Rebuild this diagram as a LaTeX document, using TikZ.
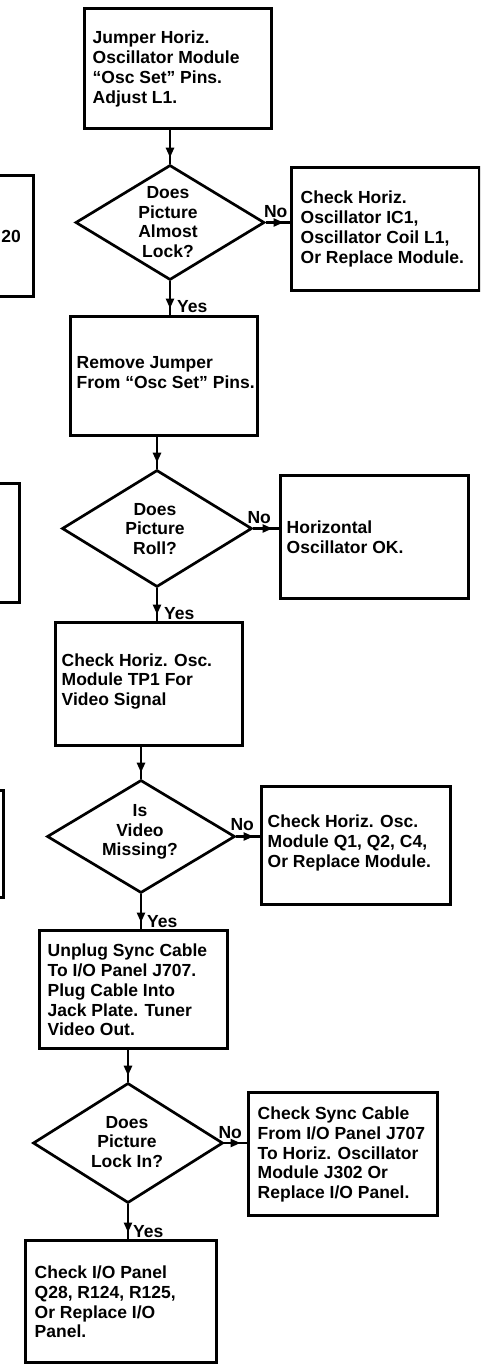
\documentclass[tikz,border=0pt]{standalone}
\usepackage{fontspec}
\setmainfont{Liberation Sans}
\usetikzlibrary{shapes.geometric,arrows.meta,decorations.markings,calc}
\begin{document}
\begin{tikzpicture}[x=1pt,y=-1pt,
  box/.style={draw, line width=3pt, inner sep=0pt},
  dia/.style={draw, diamond, line width=2.7pt, inner sep=0pt},
  btext/.style={anchor=west, align=left, inner sep=0pt, font=\fontsize{17.5}{19.8}\selectfont\bfseries},
  dtext/.style={align=center, inner sep=0pt, font=\fontsize{17.5}{19.8}\selectfont\bfseries},
  lbl/.style={inner sep=0pt, font=\fontsize{17.5}{19.8}\selectfont\bfseries},
  conn/.style={line width=2.6pt, postaction={decorate},
    decoration={markings, mark=at position -6pt with {\arrow{Triangle[length=10pt,width=8pt]}}}}]
\useasboundingbox (0,0) rectangle (480,1367);
\fill[white] (0,0) rectangle (480,1367);
\begin{scope}
\clip (0,0) rectangle (480,1367);
% partial boxes at the left edge
\node[box, minimum width=60pt, minimum height=120pt] (l1) at (3,236) {};
\node[btext, anchor=east] (l1t) at (21,236) {20};
\node[box, minimum width=60pt, minimum height=119pt] (l2) at (-11,542.5) {};
\node[box, minimum width=60pt, minimum height=107pt] (l3) at (-27,843.5) {};

% main boxes
\node[box, minimum width=187pt, minimum height=120pt] (b1) at (177.5,69) {};
\node[btext] (t1) at ($(b1.west)+(10,0)$) {Jumper Horiz.\\Oscillator Module\\“Osc Set” Pins.\\Adjust L1.};

\node[dia, minimum width=189pt, minimum height=115pt] (d1) at (170,222.5) {};
\node[dtext] (d1t) at (168,222) {Does\\Picture\\Almost\\Lock?};

\node[box, minimum width=188pt, minimum height=122pt] (b2) at (385,229) {};
\node[btext] (t2) at ($(b2.west)+(11,0)$) {Check Horiz.\\Oscillator IC1,\\Oscillator Coil L1,\\Or Replace Module.};

\node[box, minimum width=187pt, minimum height=119pt] (b3) at (163.5,375.5) {};
\node[btext] (t3) at ($(b3.west)+(8,-3)$) {Remove Jumper\\From “Osc Set” Pins.};

\node[dia, minimum width=190pt, minimum height=117pt] (d2) at (157,528.5) {};
\node[dtext] (d2t) at (155,529) {Does\\Picture\\Roll?};

\node[box, minimum width=188pt, minimum height=123pt] (b4) at (374,536.5) {};
\node[btext] (t4) at ($(b4.west)+(8,1)$) {Horizontal\\Oscillator OK.};

\node[box, minimum width=187pt, minimum height=123pt] (b5) at (148.5,683.5) {};
\node[btext] (t5) at ($(b5.west)+(8,-2)$) {Check Horiz. Osc.\\Module TP1 For\\Video Signal};

\node[dia, minimum width=188pt, minimum height=113pt] (d3) at (141,836.5) {};
\node[dtext] (d3t) at (140,832) {Is\\Video\\Missing?};

\node[box, minimum width=189pt, minimum height=118pt] (b6) at (355.5,845) {};
\node[btext] (t6) at ($(b6.west)+(8,-2)$) {Check Horiz. Osc.\\Module Q1, Q2, C4,\\Or Replace Module.};

\node[box, minimum width=188pt, minimum height=118pt] (b7) at (133,989) {};
\node[btext] (t7) at ($(b7.west)+(10,1)$) {Unplug Sync Cable\\To I/O Panel J707.\\Plug Cable Into\\Jack Plate. Tuner\\Video Out.};

\node[dia, minimum width=190pt, minimum height=120pt] (d4) at (128,1143) {};
\node[dtext] (d4t) at (127,1142) {Does\\Picture\\Lock In?};

\node[box, minimum width=189pt, minimum height=123pt] (b8) at (342.5,1153.5) {};
\node[btext] (t8) at ($(b8.west)+(11,1)$) {Check Sync Cable\\From I/O Panel J707\\To Horiz. Oscillator\\Module J302 Or\\Replace I/O Panel.};

\node[box, minimum width=191pt, minimum height=122pt] (b9) at (120.5,1301) {};
\node[btext] (t9) at ($(b9.west)+(11,1)$) {Check I/O Panel\\Q28, R124, R125,\\Or Replace I/O\\Panel.};
\end{scope}

% connectors
\draw[conn] (d1.north |- b1.south) -- (d1.north);
\draw[conn] (d1.east) -- (d1.east -| b2.west);
\draw[conn] (d1.south) -- (d1.south |- b3.north);
\draw[conn] (d2.north |- b3.south) -- (d2.north);
\draw[conn] (d2.east) -- (d2.east -| b4.west);
\draw[conn] (d2.south) -- (d2.south |- b5.north);
\draw[conn] (d3.north |- b5.south) -- (d3.north);
\draw[conn] (d3.east) -- (d3.east -| b6.west);
\draw[conn] (d3.south) -- (d3.south |- b7.north);
\draw[conn] (d4.north |- b7.south) -- (d4.north);
\draw[conn] (d4.east) -- (d4.east -| b8.west);
\draw[conn] (d4.south) -- (d4.south |- b9.north);

% labels
\node[lbl, anchor=base west] (n1) at ($(d1.east)+(-2,-5)$) {No};
\node[lbl, anchor=base west] (y1) at ($(d1.south)+(7,31)$) {Yes};
\node[lbl, anchor=base west] (n2) at ($(d2.east)+(-6,-5)$) {No};
\node[lbl, anchor=base west] (y2) at ($(d2.south)+(7,31)$) {Yes};
\node[lbl, anchor=base west] (n3) at ($(d3.east)+(-6,-6)$) {No};
\node[lbl, anchor=base west] (y3) at ($(d3.south)+(6,33)$) {Yes};
\node[lbl, anchor=base west] (n4) at ($(d4.east)+(-6,-5)$) {No};
\node[lbl, anchor=base west] (y4) at ($(d4.south)+(5,33)$) {Yes};
\end{tikzpicture}
\end{document}
